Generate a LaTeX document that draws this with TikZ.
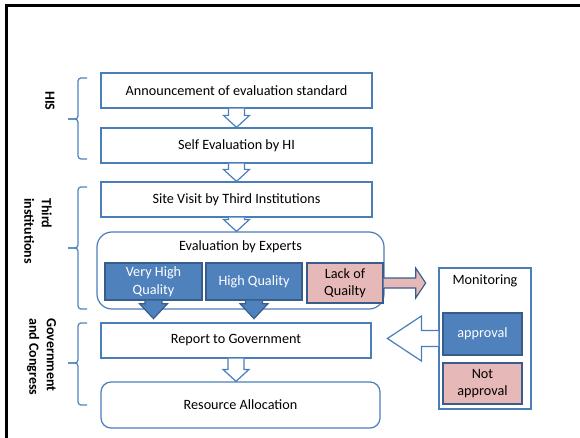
\documentclass[tikz,border=0pt]{standalone}
\usepackage{fontspec}
\setmainfont{Carlito}
\usetikzlibrary{calc}

\definecolor{accent}{HTML}{4F81BD}
\definecolor{accentdark}{HTML}{385D8A}
\definecolor{outline}{HTML}{4A7EBB}
\definecolor{rose}{HTML}{E6B9B8}

% Block arrow from #1 to the tip #2:
% #3 half shaft width, #4 half head width, #5 head length, #6 style.
% The tail end is left open so it merges with the box it leaves.
\newcommand\blockarrow[6]{%
  \filldraw[#6]
    ($(#1)!#3!90:(#2)$)
    -- ($($(#2)!#5!(#1)$)!#3!-90:(#1)$)
    -- ($($(#2)!#5!(#1)$)!#4!-90:(#1)$)
    -- (#2)
    -- ($($(#2)!#5!(#1)$)!#4!90:(#1)$)
    -- ($($(#2)!#5!(#1)$)!#3!90:(#1)$)
    -- ($(#1)!#3!-90:(#2)$);
}

\begin{document}
\begin{tikzpicture}[x=1pt,y=-1pt,
  every node/.style={font=\fontsize{14.2}{17.5}\selectfont, inner sep=0pt, align=center},
  stage/.style={draw=outline, line width=1.2pt, fill=white, rectangle},
  grade/.style={draw=accentdark, line width=1.3pt, fill=accent, text=white, rectangle},
  weak/.style={draw=accentdark, line width=1.3pt, fill=rose, text=black, rectangle},
  sidelabel/.style={font=\fontsize{14}{17.5}\selectfont\bfseries, rotate=-90, anchor=west, align=left},
  bracket/.style={draw=accent, line width=1.2pt, rounded corners=3pt},
  hollow/.style={draw=outline, line width=1.2pt, fill=white},
  solidblue/.style={draw=accentdark, line width=1.2pt, fill=accent},
  solidrose/.style={draw=accentdark, line width=1.2pt, fill=rose},
]
\useasboundingbox (0,0) rectangle (580,438);

% page frame
\draw[line width=2.7pt] (580,5.3) -- (6.5,5.3) -- (6.5,438);

% process stages
\node[stage, minimum width=271pt, minimum height=35pt] (ann) at (236.5,90.5) {Announcement of evaluation standard};
\node[stage, minimum width=271pt, minimum height=35pt] (self) at (236.5,145.5) {Self Evaluation by HI};
\node[stage, minimum width=271pt, minimum height=35pt] (site) at (236.5,199.5) {Site Visit by Third Institutions};
\node[stage, rounded corners=15pt, minimum width=287pt, minimum height=77pt,
      label={[anchor=center, yshift=-15pt]north:Evaluation by Experts}] (experts) at (240.5,270.5) {};
\node[grade, minimum width=97pt, minimum height=37pt] (vhq) at (153.5,281.5) {Very High\\Quality};
\node[grade, minimum width=96pt, minimum height=37pt] (hq) at (254,281.5) {High Quality};
\node[weak, minimum width=76pt, minimum height=40pt] (lack) at (345,283) {Lack of\\Quailty};
\node[stage, minimum width=270pt, minimum height=35pt] (report) at (236,340.5) {Report to Government};
\node[stage, rounded corners=10pt, minimum width=279pt, minimum height=46pt] (resource) at (240.5,405) {Resource Allocation};

% monitoring panel
\node[stage, minimum width=92pt, minimum height=141pt,
      label={[anchor=center, yshift=-13pt]north:Monitoring}] (monitor) at (485,338.5) {};
\node[grade, minimum width=79pt, minimum height=42pt] (approval) at (482.5,334) {approval};
\node[weak, minimum width=79pt, minimum height=41pt] (notappr) at (482.5,383.5) {Not\\approval};

% free arrow tips
\coordinate (vtip) at ($(vhq.south)+(0,18)$);
\coordinate (htip) at ($(hq.south)+(0,18)$);
\coordinate (ltip) at ($(lack.east)+(42,0)$);
\coordinate (mtip) at ($(monitor.west)+(-51,0)$);

% flow between stages
\blockarrow{ann.south}{self.north}{8pt}{13pt}{12pt}{hollow}
\blockarrow{self.south}{site.north}{8pt}{13pt}{12pt}{hollow}
\blockarrow{site.south}{site.south |- experts.north}{8pt}{13pt}{12pt}{hollow}
\blockarrow{report.south}{report.south |- resource.north}{8pt}{13pt}{12pt}{hollow}

% grading outcomes
\blockarrow{vhq.south}{vtip}{8.5pt}{14pt}{15pt}{solidblue}
\blockarrow{hq.south}{htip}{8.5pt}{14pt}{15pt}{solidblue}
\blockarrow{lack.east}{ltip}{5pt}{15pt}{10pt}{solidrose}

% feedback from monitoring
\blockarrow{monitor.west}{mtip}{8pt}{22.5pt}{34pt}{hollow}

% actor brackets
\draw[bracket] (87,78) -- (78,78) -- (78,119) -- (68,119);
\draw[bracket] (68,119) -- (78,119) -- (78,159) -- (87,159);
\draw[bracket] (87,187) -- (78,187) -- (78,248) -- (68,248);
\draw[bracket] (68,248) -- (78,248) -- (78,309) -- (87,309);
\draw[bracket] (87,323) -- (78,323) -- (78,363) -- (68,363);
\draw[bracket] (68,363) -- (78,363) -- (78,405) -- (87,405);

% actor names
\node[sidelabel] (lhis) at (50,91) {HIS};
\node[sidelabel] (lthird) at (38,198) {Third\\institutions};
\node[sidelabel] (lgov) at (41.5,318) {Government\\and Congress};
\end{tikzpicture}
\end{document}
